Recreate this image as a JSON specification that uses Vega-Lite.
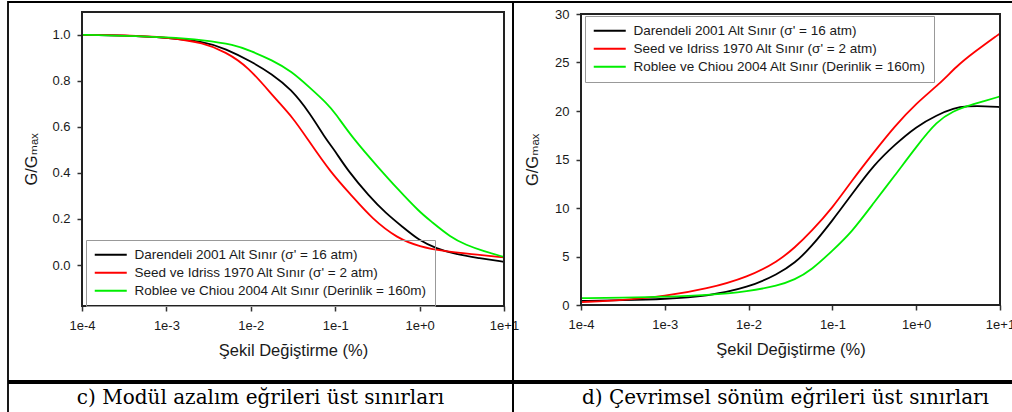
{
  "$schema": "https://vega.github.io/schema/vega-lite/v6.json",
  "padding": {"left": 7, "top": 1, "right": 0, "bottom": 0},
  "spacing": 0,
  "config": {
    "font": "Liberation Sans",
    "axis": {
      "labelFont": "Liberation Sans", "labelFontSize": 13, "labelColor": "#1a1a1a",
      "titleFont": "Liberation Sans, DejaVu Sans", "titleFontSize": 16.5, "titleFontWeight": "normal", "titleColor": "#1a1a1a",
      "tickColor": "#333333", "tickWidth": 1.5, "tickSize": 5, "domain": false, "grid": false,
      "labelFlush": false, "labelOverlap": false
    },
    "legend": {
      "title": null, "orient": "none", "strokeColor": "#999999", "padding": 8,
      "labelFont": "Liberation Sans", "labelFontSize": 13.5, "labelColor": "#1a1a1a", "labelLimit": 500,
      "symbolType": "M-1.2,0H5.2", "symbolSize": 100, "symbolStrokeWidth": 2, "labelOffset": 27, "rowPadding": 3
    }
  },
  "datasets": {
    "ggmax": [
      {"series": "Darendeli 2001 Alt Sınır (σ' = 16 atm)", "strain": 0.0001, "value": 1.0},
      {"series": "Darendeli 2001 Alt Sınır (σ' = 16 atm)", "strain": 0.000316, "value": 0.997},
      {"series": "Darendeli 2001 Alt Sınır (σ' = 16 atm)", "strain": 0.001, "value": 0.988},
      {"series": "Darendeli 2001 Alt Sınır (σ' = 16 atm)", "strain": 0.00282, "value": 0.97},
      {"series": "Darendeli 2001 Alt Sınır (σ' = 16 atm)", "strain": 0.00501, "value": 0.94},
      {"series": "Darendeli 2001 Alt Sınır (σ' = 16 atm)", "strain": 0.01, "value": 0.885},
      {"series": "Darendeli 2001 Alt Sınır (σ' = 16 atm)", "strain": 0.0178, "value": 0.83},
      {"series": "Darendeli 2001 Alt Sınır (σ' = 16 atm)", "strain": 0.0302, "value": 0.763},
      {"series": "Darendeli 2001 Alt Sınır (σ' = 16 atm)", "strain": 0.0501, "value": 0.66},
      {"series": "Darendeli 2001 Alt Sınır (σ' = 16 atm)", "strain": 0.0778, "value": 0.546},
      {"series": "Darendeli 2001 Alt Sınır (σ' = 16 atm)", "strain": 0.0977, "value": 0.5},
      {"series": "Darendeli 2001 Alt Sınır (σ' = 16 atm)", "strain": 0.141, "value": 0.41},
      {"series": "Darendeli 2001 Alt Sınır (σ' = 16 atm)", "strain": 0.251, "value": 0.3},
      {"series": "Darendeli 2001 Alt Sınır (σ' = 16 atm)", "strain": 0.398, "value": 0.225},
      {"series": "Darendeli 2001 Alt Sınır (σ' = 16 atm)", "strain": 0.631, "value": 0.165},
      {"series": "Darendeli 2001 Alt Sınır (σ' = 16 atm)", "strain": 1, "value": 0.105},
      {"series": "Darendeli 2001 Alt Sınır (σ' = 16 atm)", "strain": 1.585, "value": 0.072},
      {"series": "Darendeli 2001 Alt Sınır (σ' = 16 atm)", "strain": 2.57, "value": 0.048},
      {"series": "Darendeli 2001 Alt Sınır (σ' = 16 atm)", "strain": 5.01, "value": 0.03},
      {"series": "Darendeli 2001 Alt Sınır (σ' = 16 atm)", "strain": 10, "value": 0.014},
      {"series": "Seed ve Idriss 1970 Alt Sınır (σ' = 2 atm)", "strain": 0.0001, "value": 1.0},
      {"series": "Seed ve Idriss 1970 Alt Sınır (σ' = 2 atm)", "strain": 0.000316, "value": 0.998},
      {"series": "Seed ve Idriss 1970 Alt Sınır (σ' = 2 atm)", "strain": 0.001, "value": 0.99},
      {"series": "Seed ve Idriss 1970 Alt Sınır (σ' = 2 atm)", "strain": 0.00282, "value": 0.965},
      {"series": "Seed ve Idriss 1970 Alt Sınır (σ' = 2 atm)", "strain": 0.00501, "value": 0.925},
      {"series": "Seed ve Idriss 1970 Alt Sınır (σ' = 2 atm)", "strain": 0.0092, "value": 0.864},
      {"series": "Seed ve Idriss 1970 Alt Sınır (σ' = 2 atm)", "strain": 0.0191, "value": 0.726},
      {"series": "Seed ve Idriss 1970 Alt Sınır (σ' = 2 atm)", "strain": 0.0316, "value": 0.64},
      {"series": "Seed ve Idriss 1970 Alt Sınır (σ' = 2 atm)", "strain": 0.0472, "value": 0.546},
      {"series": "Seed ve Idriss 1970 Alt Sınır (σ' = 2 atm)", "strain": 0.0891, "value": 0.4},
      {"series": "Seed ve Idriss 1970 Alt Sınır (σ' = 2 atm)", "strain": 0.158, "value": 0.3},
      {"series": "Seed ve Idriss 1970 Alt Sınır (σ' = 2 atm)", "strain": 0.275, "value": 0.2},
      {"series": "Seed ve Idriss 1970 Alt Sınır (σ' = 2 atm)", "strain": 0.55, "value": 0.115},
      {"series": "Seed ve Idriss 1970 Alt Sınır (σ' = 2 atm)", "strain": 1, "value": 0.08},
      {"series": "Seed ve Idriss 1970 Alt Sınır (σ' = 2 atm)", "strain": 1.95, "value": 0.06},
      {"series": "Seed ve Idriss 1970 Alt Sınır (σ' = 2 atm)", "strain": 3.98, "value": 0.048},
      {"series": "Seed ve Idriss 1970 Alt Sınır (σ' = 2 atm)", "strain": 10, "value": 0.033},
      {"series": "Roblee ve Chiou 2004 Alt Sınır (Derinlik = 160m)", "strain": 0.0001, "value": 1.0},
      {"series": "Roblee ve Chiou 2004 Alt Sınır (Derinlik = 160m)", "strain": 0.000316, "value": 0.996},
      {"series": "Roblee ve Chiou 2004 Alt Sınır (Derinlik = 160m)", "strain": 0.001, "value": 0.99},
      {"series": "Roblee ve Chiou 2004 Alt Sınır (Derinlik = 160m)", "strain": 0.00282, "value": 0.977},
      {"series": "Roblee ve Chiou 2004 Alt Sınır (Derinlik = 160m)", "strain": 0.00631, "value": 0.957},
      {"series": "Roblee ve Chiou 2004 Alt Sınır (Derinlik = 160m)", "strain": 0.01, "value": 0.93},
      {"series": "Roblee ve Chiou 2004 Alt Sınır (Derinlik = 160m)", "strain": 0.0178, "value": 0.89},
      {"series": "Roblee ve Chiou 2004 Alt Sınır (Derinlik = 160m)", "strain": 0.0302, "value": 0.842},
      {"series": "Roblee ve Chiou 2004 Alt Sınır (Derinlik = 160m)", "strain": 0.0501, "value": 0.77},
      {"series": "Roblee ve Chiou 2004 Alt Sınır (Derinlik = 160m)", "strain": 0.0813, "value": 0.699},
      {"series": "Roblee ve Chiou 2004 Alt Sınır (Derinlik = 160m)", "strain": 0.1, "value": 0.66},
      {"series": "Roblee ve Chiou 2004 Alt Sınır (Derinlik = 160m)", "strain": 0.162, "value": 0.55},
      {"series": "Roblee ve Chiou 2004 Alt Sınır (Derinlik = 160m)", "strain": 0.331, "value": 0.42},
      {"series": "Roblee ve Chiou 2004 Alt Sınır (Derinlik = 160m)", "strain": 0.55, "value": 0.33},
      {"series": "Roblee ve Chiou 2004 Alt Sınır (Derinlik = 160m)", "strain": 1, "value": 0.23},
      {"series": "Roblee ve Chiou 2004 Alt Sınır (Derinlik = 160m)", "strain": 1.365, "value": 0.19},
      {"series": "Roblee ve Chiou 2004 Alt Sınır (Derinlik = 160m)", "strain": 2.34, "value": 0.12},
      {"series": "Roblee ve Chiou 2004 Alt Sınır (Derinlik = 160m)", "strain": 3.55, "value": 0.087},
      {"series": "Roblee ve Chiou 2004 Alt Sınır (Derinlik = 160m)", "strain": 5.75, "value": 0.06},
      {"series": "Roblee ve Chiou 2004 Alt Sınır (Derinlik = 160m)", "strain": 10, "value": 0.035}
    ],
    "damping": [
      {"series": "Darendeli 2001 Alt Sınır (σ' = 16 atm)", "strain": 0.0001, "value": 0.42},
      {"series": "Darendeli 2001 Alt Sınır (σ' = 16 atm)", "strain": 0.000316, "value": 0.5},
      {"series": "Darendeli 2001 Alt Sınır (σ' = 16 atm)", "strain": 0.001, "value": 0.62},
      {"series": "Darendeli 2001 Alt Sınır (σ' = 16 atm)", "strain": 0.00316, "value": 0.9},
      {"series": "Darendeli 2001 Alt Sınır (σ' = 16 atm)", "strain": 0.01, "value": 1.8},
      {"series": "Darendeli 2001 Alt Sınır (σ' = 16 atm)", "strain": 0.0224, "value": 3.2},
      {"series": "Darendeli 2001 Alt Sınır (σ' = 16 atm)", "strain": 0.0355, "value": 4.3},
      {"series": "Darendeli 2001 Alt Sınır (σ' = 16 atm)", "strain": 0.0562, "value": 6.0},
      {"series": "Darendeli 2001 Alt Sınır (σ' = 16 atm)", "strain": 0.1, "value": 8.7},
      {"series": "Darendeli 2001 Alt Sınır (σ' = 16 atm)", "strain": 0.17, "value": 11.4},
      {"series": "Darendeli 2001 Alt Sınır (σ' = 16 atm)", "strain": 0.316, "value": 14.5},
      {"series": "Darendeli 2001 Alt Sınır (σ' = 16 atm)", "strain": 0.55, "value": 16.5},
      {"series": "Darendeli 2001 Alt Sınır (σ' = 16 atm)", "strain": 1, "value": 18.4},
      {"series": "Darendeli 2001 Alt Sınır (σ' = 16 atm)", "strain": 1.778, "value": 19.6},
      {"series": "Darendeli 2001 Alt Sınır (σ' = 16 atm)", "strain": 2.818, "value": 20.3},
      {"series": "Darendeli 2001 Alt Sınır (σ' = 16 atm)", "strain": 3.98, "value": 20.5},
      {"series": "Darendeli 2001 Alt Sınır (σ' = 16 atm)", "strain": 6.76, "value": 20.5},
      {"series": "Darendeli 2001 Alt Sınır (σ' = 16 atm)", "strain": 10, "value": 20.4},
      {"series": "Seed ve Idriss 1970 Alt Sınır (σ' = 2 atm)", "strain": 0.0001, "value": 0.3},
      {"series": "Seed ve Idriss 1970 Alt Sınır (σ' = 2 atm)", "strain": 0.000316, "value": 0.5},
      {"series": "Seed ve Idriss 1970 Alt Sınır (σ' = 2 atm)", "strain": 0.001, "value": 0.9},
      {"series": "Seed ve Idriss 1970 Alt Sınır (σ' = 2 atm)", "strain": 0.00316, "value": 1.65},
      {"series": "Seed ve Idriss 1970 Alt Sınır (σ' = 2 atm)", "strain": 0.01, "value": 2.9},
      {"series": "Seed ve Idriss 1970 Alt Sınır (σ' = 2 atm)", "strain": 0.0224, "value": 4.5},
      {"series": "Seed ve Idriss 1970 Alt Sınır (σ' = 2 atm)", "strain": 0.0355, "value": 5.9},
      {"series": "Seed ve Idriss 1970 Alt Sınır (σ' = 2 atm)", "strain": 0.0562, "value": 7.6},
      {"series": "Seed ve Idriss 1970 Alt Sınır (σ' = 2 atm)", "strain": 0.1, "value": 10.0},
      {"series": "Seed ve Idriss 1970 Alt Sınır (σ' = 2 atm)", "strain": 0.17, "value": 12.8},
      {"series": "Seed ve Idriss 1970 Alt Sınır (σ' = 2 atm)", "strain": 0.316, "value": 15.8},
      {"series": "Seed ve Idriss 1970 Alt Sınır (σ' = 2 atm)", "strain": 0.55, "value": 18.4},
      {"series": "Seed ve Idriss 1970 Alt Sınır (σ' = 2 atm)", "strain": 1, "value": 20.8},
      {"series": "Seed ve Idriss 1970 Alt Sınır (σ' = 2 atm)", "strain": 1.905, "value": 22.8},
      {"series": "Seed ve Idriss 1970 Alt Sınır (σ' = 2 atm)", "strain": 3.02, "value": 24.6},
      {"series": "Seed ve Idriss 1970 Alt Sınır (σ' = 2 atm)", "strain": 4.79, "value": 26.0},
      {"series": "Seed ve Idriss 1970 Alt Sınır (σ' = 2 atm)", "strain": 10, "value": 28.0},
      {"series": "Roblee ve Chiou 2004 Alt Sınır (Derinlik = 160m)", "strain": 0.0001, "value": 0.7},
      {"series": "Roblee ve Chiou 2004 Alt Sınır (Derinlik = 160m)", "strain": 0.000316, "value": 0.75},
      {"series": "Roblee ve Chiou 2004 Alt Sınır (Derinlik = 160m)", "strain": 0.001, "value": 0.85},
      {"series": "Roblee ve Chiou 2004 Alt Sınır (Derinlik = 160m)", "strain": 0.00316, "value": 1.0},
      {"series": "Roblee ve Chiou 2004 Alt Sınır (Derinlik = 160m)", "strain": 0.01, "value": 1.4},
      {"series": "Roblee ve Chiou 2004 Alt Sınır (Derinlik = 160m)", "strain": 0.0224, "value": 2.0},
      {"series": "Roblee ve Chiou 2004 Alt Sınır (Derinlik = 160m)", "strain": 0.0355, "value": 2.6},
      {"series": "Roblee ve Chiou 2004 Alt Sınır (Derinlik = 160m)", "strain": 0.0562, "value": 3.6},
      {"series": "Roblee ve Chiou 2004 Alt Sınır (Derinlik = 160m)", "strain": 0.1, "value": 5.6},
      {"series": "Roblee ve Chiou 2004 Alt Sınır (Derinlik = 160m)", "strain": 0.17, "value": 7.5},
      {"series": "Roblee ve Chiou 2004 Alt Sınır (Derinlik = 160m)", "strain": 0.316, "value": 10.6},
      {"series": "Roblee ve Chiou 2004 Alt Sınır (Derinlik = 160m)", "strain": 0.55, "value": 13.3},
      {"series": "Roblee ve Chiou 2004 Alt Sınır (Derinlik = 160m)", "strain": 1, "value": 16.3},
      {"series": "Roblee ve Chiou 2004 Alt Sınır (Derinlik = 160m)", "strain": 1.778, "value": 19.0},
      {"series": "Roblee ve Chiou 2004 Alt Sınır (Derinlik = 160m)", "strain": 2.818, "value": 20.0},
      {"series": "Roblee ve Chiou 2004 Alt Sınır (Derinlik = 160m)", "strain": 3.98, "value": 20.5},
      {"series": "Roblee ve Chiou 2004 Alt Sınır (Derinlik = 160m)", "strain": 6.31, "value": 21.0},
      {"series": "Roblee ve Chiou 2004 Alt Sınır (Derinlik = 160m)", "strain": 10, "value": 21.5}
    ]
  },
  "vconcat": [
    {
      "spacing": 0,
      "bounds": "flush",
      "resolve": {
        "scale": {"x": "independent", "y": "independent", "color": "independent"},
        "legend": {"color": "independent"},
        "axis": {"x": "independent", "y": "independent"}
      },
      "hconcat": [
        {
          "width": 505,
          "height": 379,
          "view": {"stroke": "#000000", "strokeWidth": 1.8},
          "layer": [
            {
              "data": {"name": "ggmax"},
              "mark": {"type": "line", "interpolate": "basis", "strokeWidth": 1.8},
              "encoding": {
                "x": {
                  "field": "strain", "type": "quantitative", "title": "Şekil Değiştirme (%)",
                  "scale": {"type": "log", "domain": [0.0001, 10], "range": [74, 496], "nice": false},
                  "axis": {
                    "values": [0.0001, 0.001, 0.01, 0.1, 1, 10],
                    "labelExpr": "'1e' + (round(log(datum.value)/LN10) >= 0 ? '+' : '') + round(log(datum.value)/LN10)",
                    "offset": -75, "labelPadding": 8, "titlePadding": 10
                  }
                },
                "y": {
                  "field": "value", "type": "quantitative", "title": "G/Gₘₐₓ",
                  "scale": {"domain": [-0.178, 1.099], "range": [304, 10], "nice": false, "zero": false},
                  "axis": {"values": [0, 0.2, 0.4, 0.6, 0.8, 1.0], "format": ".1f", "offset": -74, "labelPadding": 7, "titlePadding": 12}
                },
                "color": {
                  "field": "series", "type": "nominal",
                  "scale": {
                    "domain": ["Darendeli 2001 Alt Sınır (σ' = 16 atm)", "Seed ve Idriss 1970 Alt Sınır (σ' = 2 atm)", "Roblee ve Chiou 2004 Alt Sınır (Derinlik = 160m)"],
                    "range": ["#000000", "#ff0000", "#00ee00"]
                  },
                  "legend": {"legendX": 78, "legendY": 238}
                }
              }
            },
            {
              "data": {"values": [{"strain": 0.0001, "strain2": 10, "value": -0.178, "value2": 1.099}]},
              "mark": {"type": "rect", "fill": "#ffffff", "fillOpacity": 0, "stroke": "#222222", "strokeWidth": 2},
              "encoding": {
                "x": {"field": "strain", "type": "quantitative", "title": "Şekil Değiştirme (%)", "scale": {"type": "log", "domain": [0.0001, 10], "range": [74, 496], "nice": false}},
                "x2": {"field": "strain2"},
                "y": {"field": "value", "type": "quantitative", "title": "G/Gₘₐₓ", "scale": {"domain": [-0.178, 1.099], "range": [304, 10], "nice": false, "zero": false}},
                "y2": {"field": "value2"}
              }
            }
          ]
        },
        {
          "width": 545,
          "height": 379,
          "view": {"stroke": "#000000", "strokeWidth": 1.8},
          "layer": [
            {
              "data": {"name": "damping"},
              "mark": {"type": "line", "interpolate": "basis", "strokeWidth": 1.8},
              "encoding": {
                "x": {
                  "field": "strain", "type": "quantitative", "title": "Şekil Değiştirme (%)",
                  "scale": {"type": "log", "domain": [0.0001, 10], "range": [68, 487], "nice": false},
                  "axis": {
                    "values": [0.0001, 0.001, 0.01, 0.1, 1, 10],
                    "labelExpr": "'1e' + (round(log(datum.value)/LN10) >= 0 ? '+' : '') + round(log(datum.value)/LN10)",
                    "offset": -76, "labelPadding": 8, "titlePadding": 10
                  }
                },
                "y": {
                  "field": "value", "type": "quantitative", "title": "G/Gₘₐₓ",
                  "scale": {"domain": [0, 30], "range": [303, 12], "nice": false, "zero": false},
                  "axis": {"values": [0, 5, 10, 15, 20, 25, 30], "format": "d", "offset": -68, "labelPadding": 7, "titlePadding": 14}
                },
                "color": {
                  "field": "series", "type": "nominal",
                  "scale": {
                    "domain": ["Darendeli 2001 Alt Sınır (σ' = 16 atm)", "Seed ve Idriss 1970 Alt Sınır (σ' = 2 atm)", "Roblee ve Chiou 2004 Alt Sınır (Derinlik = 160m)"],
                    "range": ["#000000", "#ff0000", "#00ee00"]
                  },
                  "legend": {"legendX": 72, "legendY": 14}
                }
              }
            },
            {
              "data": {"values": [{"strain": 0.0001, "strain2": 10, "value": 0, "value2": 30}]},
              "mark": {"type": "rect", "fill": "#ffffff", "fillOpacity": 0, "stroke": "#222222", "strokeWidth": 2},
              "encoding": {
                "x": {"field": "strain", "type": "quantitative", "title": "Şekil Değiştirme (%)", "scale": {"type": "log", "domain": [0.0001, 10], "range": [68, 487], "nice": false}},
                "x2": {"field": "strain2"},
                "y": {"field": "value", "type": "quantitative", "title": "G/Gₘₐₓ", "scale": {"domain": [0, 30], "range": [303, 12], "nice": false, "zero": false}},
                "y2": {"field": "value2"}
              }
            }
          ]
        }
      ]
    },
    {
      "spacing": 0,
      "bounds": "flush",
      "hconcat": [
        {
          "width": 505,
          "height": 30,
          "view": {"stroke": "#000000", "strokeWidth": 1.8},
          "data": {"values": [{"caption": "c)  Modül azalım eğrileri üst sınırları"}]},
          "mark": {"type": "text", "font": "DejaVu Serif", "fontSize": 20, "color": "#000000"},
          "encoding": {"text": {"field": "caption", "type": "nominal"}}
        },
        {
          "width": 545,
          "height": 30,
          "view": {"stroke": "#000000", "strokeWidth": 1.8},
          "data": {"values": [{"caption": "d)  Çevrimsel sönüm eğrileri üst sınırları"}]},
          "mark": {"type": "text", "font": "DejaVu Serif", "fontSize": 20, "color": "#000000"},
          "encoding": {"text": {"field": "caption", "type": "nominal"}}
        }
      ]
    }
  ]
}
